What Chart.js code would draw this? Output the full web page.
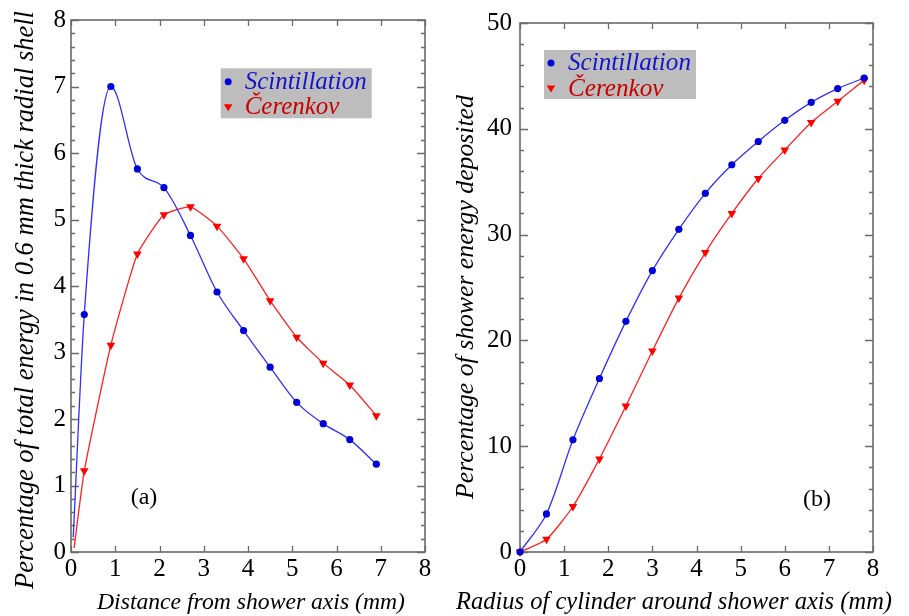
<!DOCTYPE html>
<html><head><meta charset="utf-8">
<script src="https://cdn.jsdelivr.net/npm/chart.js@4.4.1/dist/chart.umd.min.js"></script>
<style>
html,body{margin:0;padding:0;background:#fff;}
#wrap{position:relative;width:909px;height:616px;overflow:hidden;background:#fff}
canvas{position:absolute;top:0}
</style>
</head><body>
<div id="wrap">
<canvas id="ca" width="445" height="616" style="left:0"></canvas>
<canvas id="cb" width="464" height="616" style="left:445px"></canvas>
</div>
<script>
// ---- data ----
const seriesLabels = ['Scintillation', 'Čerenkov'];

// (a) energy in 0.6 mm thick radial shells
const shellRadius = [0.3, 0.9, 1.5, 2.1, 2.7, 3.3, 3.9, 4.5, 5.1, 5.7, 6.3, 6.9];
const shellScint  = [3.57, 7.0, 5.76, 5.48, 4.76, 3.91, 3.33, 2.78, 2.25, 1.93, 1.69, 1.32];
const shellCeren  = [1.22, 3.11, 4.48, 5.07, 5.19, 4.90, 4.41, 3.78, 3.23, 2.84, 2.51, 2.05];
const shellLineStartScint = [0.05, 0.22];   // curve start near the axis (no marker)
const shellLineStartCeren = [0.07, 0.06];

// (b) energy deposited inside cylinder of radius r
const cylRadius = [0, 0.6, 1.2, 1.8, 2.4, 3.0, 3.6, 4.2, 4.8, 5.4, 6.0, 6.6, 7.2, 7.8];
const cylScint  = [0, 3.6, 10.6, 16.4, 21.8, 26.6, 30.5, 33.9, 36.6, 38.8, 40.8, 42.5, 43.8, 44.8];
const cylCeren  = [0, 1.2, 4.3, 8.8, 13.8, 19.0, 24.0, 28.3, 32.0, 35.3, 38.0, 40.6, 42.6, 44.6];

const xTickLabels = ['0','1','2','3','4','5','6','7','8'];
const shellYTickLabels = ['0','1','2','3','4','5','6','7','8'];
const cylYTickLabels = ['0','10','20','30','40','50'];

// ---- styles ----
const SERIF = "'Liberation Serif', 'Times New Roman', serif";
Chart.defaults.font.family = SERIF;
const BLUE_LINE = '#3030ff', BLUE_PT = '#0000d8';
const RED_LINE = '#ff2020', RED_PT = '#ff0000';
const FRAME = '#6a6a6a';

const toPts = (xs, ys, start) => {
  const pts = xs.map((x, i) => ({x, y: ys[i]}));
  if (start) pts.unshift({x: start[0], y: start[1]});
  return pts;
};

// choose an italic font size so that text spans the given pixel length
function fitItalic(ctx, text, len) {
  ctx.font = 'italic 20px ' + SERIF;
  const w = ctx.measureText(text).width;
  return 20 * len / w;
}

const framePlugin = {
  id: 'frame',
  beforeDatasetsDraw(chart, args, o) {
    const {ctx, chartArea: {left, right, top, bottom}, scales: {x, y}} = chart;
    ctx.save();
    ctx.strokeStyle = FRAME;
    ctx.lineWidth = 1.6;
    ctx.strokeRect(left, top, right - left, bottom - top);
    ctx.lineWidth = 1.3;
    ctx.beginPath();
    x.ticks.forEach(t => {
      const px = Math.round(x.getPixelForValue(t.value)) + 0.5;
      ctx.moveTo(px, bottom); ctx.lineTo(px, bottom - 6);
      ctx.moveTo(px, top); ctx.lineTo(px, top + 6);
    });
    const n = Math.round((y.max - y.min) / o.minor);
    for (let i = 0; i <= n; i++) {
      const v = y.min + i * o.minor;
      const py = Math.round(y.getPixelForValue(v)) + 0.5;
      const len = (i % o.per === 0) ? 8 : 4;
      ctx.moveTo(left, py); ctx.lineTo(left + len, py);
      ctx.moveTo(right, py); ctx.lineTo(right - len, py);
    }
    ctx.stroke();
    ctx.restore();
  }
};

function drawMarker(ctx, style, x, y, color) {
  ctx.fillStyle = color;
  ctx.beginPath();
  if (style === 'circle') {
    ctx.arc(x, y, 3.5, 0, Math.PI * 2);
  } else {
    ctx.moveTo(x - 4.3, y - 3); ctx.lineTo(x + 4.3, y - 3); ctx.lineTo(x, y + 4);
    ctx.closePath();
  }
  ctx.fill();
}

const legendPlugin = {
  id: 'boxLegend',
  afterDraw(chart, args, o) {
    const ctx = chart.ctx;
    ctx.save();
    ctx.fillStyle = '#bdbdbd';
    ctx.fillRect(o.x, o.y, o.w, o.h);
    const size = fitItalic(ctx, chart.data.datasets[0].label, o.textLen);
    ctx.font = 'italic ' + size + 'px ' + SERIF;
    ctx.textBaseline = 'alphabetic';
    ctx.textAlign = 'left';
    chart.data.datasets.forEach((ds, i) => {
      const base = o.y + o.rows[i];
      drawMarker(ctx, ds.pointStyle, o.x + o.mx, base - 7, ds.pointBackgroundColor);
      ctx.fillStyle = o.colors[i];
      ctx.fillText(ds.label, o.x + o.tx, base);
    });
    ctx.restore();
  }
};

const notePlugin = {
  id: 'notes',
  afterDraw(chart, args, o) {
    const ctx = chart.ctx;
    ctx.save();
    ctx.fillStyle = '#000';
    ctx.textAlign = 'center';
    ctx.textBaseline = 'middle';
    ctx.font = '24px ' + SERIF;
    ctx.fillText(o.panel, o.px, o.py);
    // x-axis title
    const xs = fitItalic(ctx, o.xtitle, o.xlen);
    ctx.textBaseline = 'alphabetic';
    ctx.font = 'italic ' + xs + 'px ' + SERIF;
    ctx.fillText(o.xtitle, o.xx, o.xy);
    // y-axis title
    const ys = fitItalic(ctx, o.ytitle, o.ylen);
    ctx.textBaseline = 'alphabetic';
    ctx.translate(o.tx, o.ty);
    ctx.rotate(-Math.PI / 2);
    ctx.font = 'italic ' + ys + 'px ' + SERIF;
    ctx.fillText(o.ytitle, 0, 0);
    ctx.restore();
  }
};

function makeChart(id, cfg) {
  const tickFont = {family: SERIF, size: 25};
  return new Chart(document.getElementById(id), {
    type: 'scatter',
    data: {
      datasets: [
        {
          label: seriesLabels[0], data: cfg.scint, showLine: true,
          borderColor: BLUE_LINE, borderWidth: 1.3, tension: cfg.tensionS,
          cubicInterpolationMode: cfg.modeS,
          pointStyle: 'circle', pointBackgroundColor: BLUE_PT, pointBorderWidth: 0,
          pointRadius: c => (cfg.hideFirst && c.dataIndex === 0) ? 0 : 3.6,
          clip: false
        },
        {
          label: seriesLabels[1], data: cfg.ceren, showLine: true,
          borderColor: RED_LINE, borderWidth: 1.3, tension: cfg.tensionC,
          pointStyle: 'triangle', rotation: 180, pointBackgroundColor: RED_PT, pointBorderWidth: 0,
          pointRadius: c => (cfg.hideFirst && c.dataIndex === 0) ? 0 : 5,
          clip: false
        }
      ]
    },
    options: {
      responsive: false, animation: false, devicePixelRatio: 1,
      events: [],
      layout: {padding: {top: 17, right: cfg.padRight, bottom: 0, left: 0}},
      plugins: {
        legend: {display: false}, tooltip: {enabled: false},
        frame: {minor: cfg.minor, per: cfg.per},
        boxLegend: cfg.legend,
        notes: cfg.notes
      },
      scales: {
        x: {
          type: 'linear', min: 0, max: 8,
          afterFit: s => { s.height = 64; },
          grid: {display: false, drawTicks: false}, border: {display: false},
          ticks: {stepSize: 1, padding: 2, color: '#000', font: tickFont, maxRotation: 0, autoSkip: false,
                  callback: (v, i) => xTickLabels[i]},
          title: {display: false}
        },
        y: {
          type: 'linear', min: 0, max: cfg.ymax,
          afterFit: s => { s.width = cfg.yw; },
          grid: {display: false, drawTicks: false}, border: {display: false},
          ticks: {stepSize: cfg.ystep, padding: cfg.ypad, color: '#000', font: tickFont, autoSkip: false,
                  callback: (v, i) => cfg.ylabels[i]}
        }
      }
    },
    plugins: [framePlugin, legendPlugin, notePlugin]
  });
}

makeChart('ca', {
  scint: toPts(shellRadius, shellScint, shellLineStartScint),
  ceren: toPts(shellRadius, shellCeren, shellLineStartCeren),
  hideFirst: true, tensionS: 0.35, modeS: 'monotone', tensionC: 0.15,
  padRight: 20, yw: 71, ypad: 5, ymax: 8, ystep: 1, minor: 0.2, per: 5,
  ylabels: shellYTickLabels,
  legend: {x: 220.7, y: 68.3, w: 151, h: 50, mx: 7.5, tx: 24, textLen: 122, rows: [20.5, 46], colors: ['#1414c8', '#c80000']},
  notes: {panel: '(a)', px: 144, py: 498,
          xtitle: 'Distance from shower axis (mm)', xlen: 308, xx: 251, xy: 609,
          tx: 33, ty: 300, ylen: 578,
          ytitle: 'Percentage of total energy in 0.6 mm thick radial shell'}
});

makeChart('cb', {
  scint: toPts(cylRadius, cylScint),
  ceren: toPts(cylRadius, cylCeren),
  hideFirst: false, tensionS: 0.3, modeS: 'default', tensionC: 0.2,
  padRight: 36, yw: 75, ypad: 8, ymax: 50, ystep: 10, minor: 2, per: 5,
  ylabels: cylYTickLabels,
  legend: {x: 99, y: 50, w: 152, h: 49, mx: 7, tx: 24, textLen: 123, rows: [20, 45.5], colors: ['#1414c8', '#c80000']},
  notes: {panel: '(b)', px: 372, py: 500,
          xtitle: 'Radius of cylinder around shower axis (mm)', xlen: 436, xx: 229, xy: 609,
          tx: 27.5, ty: 297, ylen: 404,
          ytitle: 'Percentage of shower energy deposited'}
});
</script>
</body></html>
